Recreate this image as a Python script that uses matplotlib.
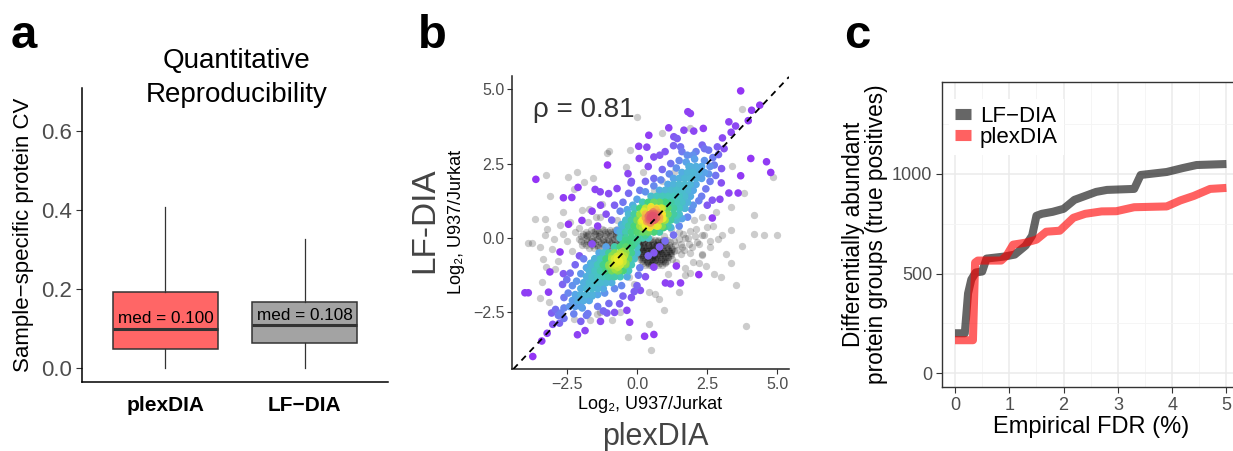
import numpy as np
import matplotlib
matplotlib.use("Agg")
import matplotlib.pyplot as plt
from matplotlib.colors import LinearSegmentedColormap
from matplotlib.lines import Line2D

plt.rcParams['font.family'] = ['Liberation Sans', 'DejaVu Sans']

W, H = 1233, 451

# ---- panel a: CV box stats ----
box_names = ['plexDIA', 'LF\u2212DIA']
box_q1 = [0.048, 0.063]
box_med = [0.100, 0.108]
box_q3 = [0.192, 0.168]
box_lo = [0.0, 0.0]
box_hi = [0.408, 0.326]
box_colors = ['#FF6666', '#A3A3A3']

# ---- panel b: log2 ratios (x = plexDIA, y = LF-DIA) ----
# body of the two dense clusters, read row by row: LF-DIA value -> plexDIA values
upper_rows = {
    -0.2: [-0.5, -0.3, -0.1],
    0.0: [-0.6, -0.4, -0.2, 0.0, 0.2, 0.4],
    0.2: [-0.6, -0.4, -0.2, 0.0, 0.2, 0.4, 0.6, 0.8],
    0.4: [-0.5, -0.3, -0.1, 0.1, 0.3, 0.5, 0.7, 0.9, 1.1],
    0.6: [-0.4, -0.2, 0.0, 0.2, 0.4, 0.6, 0.8, 1.0, 1.2, 1.4],
    0.8: [-0.3, -0.1, 0.1, 0.3, 0.5, 0.7, 0.9, 1.1, 1.3, 1.5],
    1.0: [-0.1, 0.1, 0.3, 0.5, 0.7, 0.9, 1.1, 1.3, 1.5, 1.7],
    1.2: [0.2, 0.4, 0.6, 0.8, 1.0, 1.2, 1.4, 1.6, 1.8],
    1.4: [0.5, 0.7, 0.9, 1.1, 1.3, 1.5, 1.7, 1.9],
    1.6: [0.8, 1.0, 1.2, 1.4, 1.6, 1.8, 2.0],
    1.8: [1.1, 1.3, 1.5, 1.7, 1.9, 2.1],
    2.0: [1.3, 1.5, 1.7, 1.9, 2.1, 2.3],
    2.2: [1.6, 1.8, 2.0, 2.2, 2.4],
    2.4: [1.9, 2.1, 2.3],
}
lower_rows = {
    -0.1: [-0.4, -0.2, 0.0],
    -0.3: [-0.8, -0.6, -0.4, -0.2, 0.0],
    -0.5: [-1.2, -1.0, -0.8, -0.6, -0.4, -0.2, 0.0],
    -0.7: [-1.5, -1.3, -1.1, -0.9, -0.7, -0.5, -0.3, -0.1],
    -0.9: [-1.6, -1.4, -1.2, -1.0, -0.8, -0.6, -0.4, -0.2],
    -1.1: [-1.7, -1.5, -1.3, -1.1, -0.9, -0.7, -0.5, -0.3],
    -1.3: [-1.8, -1.6, -1.4, -1.2, -1.0, -0.8, -0.6],
    -1.5: [-1.9, -1.7, -1.5, -1.3, -1.1, -0.9],
    -1.7: [-2.0, -1.8, -1.6, -1.4, -1.2],
    -1.9: [-2.2, -2.0, -1.8, -1.6, -1.4],
    -2.1: [-2.3, -2.1, -1.9, -1.7],
    -2.3: [-2.4, -2.2, -2.0],
}
# other points coloured by density
col_pts = [
    # upper cluster core
    (0.55, 0.70), (0.45, 0.62), (0.65, 0.78), (0.50, 0.80), (0.62, 0.60), (0.40, 0.72),
    (0.70, 0.68), (0.58, 0.88), (0.35, 0.55), (0.75, 0.85), (0.48, 0.50), (0.68, 0.95),
    (0.30, 0.68), (0.80, 0.70), (0.52, 0.66), (0.60, 0.74), (0.44, 0.78), (0.66, 0.64),
    (0.56, 0.58), (0.50, 0.72), (0.62, 0.82), (0.58, 0.66), (0.54, 0.76), (0.47, 0.68),
    (0.15, 0.55), (0.25, 0.90), (0.50, 1.05), (0.85, 1.00), (0.92, 0.65), (0.75, 0.40),
    (0.45, 0.35), (0.20, 0.35), (0.05, 0.20), (1.05, 1.15), (0.30, 0.10), (0.95, 0.35),
    # lower cluster core
    (-0.65, -0.75), (-0.55, -0.65), (-0.75, -0.85), (-0.60, -0.90), (-0.72, -0.62),
    (-0.50, -0.80), (-0.80, -0.70), (-0.68, -0.98), (-0.45, -0.60), (-0.88, -0.92),
    (-0.58, -0.55), (-0.78, -1.05), (-0.62, -0.80), (-0.70, -0.72), (-0.40, -0.85),
    (-0.90, -0.60), (-0.65, -1.10), (-0.50, -0.45), (-1.00, -0.95),
    # spread around clusters
    (-0.80, 1.10), (-0.50, 1.20), (-0.60, 0.90), (-0.90, 0.60), (-1.10, 0.80), (-0.30, 1.50),
    (0.10, 1.60), (0.30, 1.90), (0.60, 2.00), (0.90, 2.30), (1.20, 2.50), (1.50, 2.60),
    (1.00, 2.90), (1.30, 3.10), (2.40, 2.60), (2.60, 2.40), (2.60, 1.90), (2.80, 2.10),
    (2.30, 1.40), (2.50, 1.10), (2.00, 1.10), (1.80, 0.70), (1.50, 0.40), (1.30, 0.10),
    (1.00, -0.10), (0.80, -0.30), (1.60, 2.90), (2.10, 2.90), (2.40, 3.00), (2.90, 2.80),
    (3.10, 3.00), (2.70, 2.70), (0.40, 2.40), (-0.20, 1.90), (-1.30, 1.10), (-1.60, 0.90),
    (-0.40, 0.50), (-1.40, 0.40), (0.00, 1.30), (0.30, 1.55), (0.60, 1.75), (0.85, 1.95),
    (1.15, 2.15), (1.40, 2.35), (1.75, 2.55), (2.05, 2.65), (2.55, 2.15), (2.45, 1.65),
    (2.20, 1.25), (1.95, 0.95), (1.70, 1.00), (1.60, 0.65), (1.40, 0.75), (1.20, 0.35),
    (-0.55, 0.45), (-0.70, 0.25), (-0.35, 0.95), (-0.15, 1.10), (1.85, 2.40), (2.75, 2.45),
    (-2.00, -1.20), (-2.30, -1.60), (-2.60, -2.00), (-2.90, -2.40), (-1.80, -2.60),
    (-1.40, -2.30), (-1.00, -2.20), (-2.60, -2.70), (-0.80, -2.50), (-1.30, -2.80),
    (-2.00, -2.80), (0.10, -1.00), (0.30, -1.30), (0.00, -1.60), (-0.20, -2.00),
    (-1.80, -1.00), (-1.50, -0.70), (-2.20, -0.90), (-2.50, -1.40), (-3.00, -2.90),
    (-3.20, -3.20), (0.40, -0.60), (0.60, -0.50), (-1.10, -0.30), (-1.60, -0.20),
    (-2.15, -1.45), (-2.45, -1.85), (-2.60, -2.35), (-2.25, -2.55), (-1.95, -2.35),
    (-1.60, -1.95), (-1.15, -1.85), (-0.80, -1.70), (-0.55, -1.60), (-0.35, -1.30),
    (0.05, -1.25), (-0.10, -1.80), (-0.50, -1.95), (-1.35, -0.50), (-1.65, -0.85),
    (-2.05, -0.60), (-1.20, -2.45), (-2.80, -2.60),
    # isolated outliers
    (3.69, 4.94), (1.81, 4.24), (1.90, 4.18), (4.08, 4.29), (4.37, 4.46), (3.27, 3.90),
    (3.51, 3.76), (3.96, 3.94), (1.13, 3.70), (0.42, 3.45), (1.31, 3.40), (1.43, 3.34),
    (1.67, 3.62), (2.02, 3.59), (2.36, 3.68), (3.04, 3.36), (0.06, 3.08), (1.55, 3.06),
    (2.32, 3.12), (2.86, 3.06), (0.08, 2.67), (0.60, 2.72), (0.81, 2.78), (1.79, 2.78),
    (1.99, 2.78), (4.05, 2.67), (4.61, 2.56), (4.76, 2.20), (3.69, 2.09), (3.01, 2.33),
    (-3.60, 1.97), (-0.32, 2.16), (-0.21, 1.85), (-2.62, 1.35), (-2.32, 1.36), (-1.49, 1.63),
    (-1.31, 1.55), (-1.01, 1.49), (-0.71, 1.66), (3.27, 1.51), (3.60, 1.51), (2.68, 1.27),
    (3.00, 1.85), (-2.44, 0.46), (-1.96, 0.59), (-2.74, -0.47), (-1.90, -0.70), (-3.10, -1.14),
    (-2.62, -1.20), (-2.38, -1.18), (-2.65, -1.56), (-3.15, -1.82), (-3.99, -1.84), (-3.87, -1.84),
    (-3.04, -2.52), (-2.71, -2.52), (-2.76, -2.86), (-2.12, -3.25), (-1.85, -3.11), (-3.39, -3.46),
    (-3.71, -3.98), (-1.75, -2.54), (-1.07, -2.52), (-0.62, -2.21), (-0.36, -2.43), (-0.26, -2.83),
    (0.27, -3.30), (0.60, -3.24), (0.12, -1.76), (1.01, -1.51), (1.19, -1.54), (1.55, -1.51),
    (1.40, -0.94), (0.60, -0.98), (2.20, -1.23), (2.68, 0.67), (2.95, 1.30), (2.55, 2.95),
    (3.35, 3.55), (0.35, 3.05), (-1.05, 2.45), (-2.10, 1.70),
]

# translucent grey points, dense part read row by row
grey_rows = {
    -0.08: [0.02, 0.19, 0.31, 0.47, 0.63, 0.74, 0.92, 1.08],
    -0.15: [0.10, 0.26, 0.40, 0.56, 0.71, 0.86, 1.01, 1.16],
    -0.22: [0.08, 0.23, 0.38, 0.52, 0.69, 0.83, 0.97, 1.13],
    -0.29: [0.00, 0.14, 0.29, 0.44, 0.57, 0.74, 0.89, 1.04, 1.20],
    -0.36: [0.04, 0.17, 0.33, 0.49, 0.61, 0.78, 0.94, 1.09, 1.24],
    -0.43: [0.07, 0.21, 0.36, 0.51, 0.66, 0.82, 0.97, 1.14, 1.30],
    -0.50: [0.13, 0.27, 0.42, 0.58, 0.72, 0.88, 1.03, 1.18],
    -0.57: [0.03, 0.18, 0.32, 0.47, 0.62, 0.77, 0.92, 1.07, 1.22],
    -0.63: [0.09, 0.22, 0.37, 0.53, 0.66, 0.81, 0.98, 1.12],
    -0.70: [0.12, 0.27, 0.41, 0.57, 0.71, 0.86, 1.01],
    -0.77: [0.18, 0.34, 0.47, 0.62, 0.79, 0.93, 1.07],
    -0.84: [0.22, 0.38, 0.52, 0.67, 0.83, 0.98],
    -0.90: [0.28, 0.44, 0.58, 0.73, 0.89],
    0.28: [-1.63, -1.42, -1.18, -0.97, -0.78, -0.55],
    0.20: [-1.80, -1.58, -1.37, -1.15, -0.93, -0.74, -0.58],
    0.13: [-1.92, -1.74, -1.51, -1.33, -1.09, -0.88, -0.69, -0.47],
    0.05: [-1.98, -1.77, -1.56, -1.36, -1.14, -0.95, -0.76, -0.55, -0.38],
    -0.02: [-2.05, -1.83, -1.62, -1.44, -1.21, -1.02, -0.83, -0.61, -0.42],
    -0.10: [-2.00, -1.79, -1.57, -1.38, -1.17, -0.99, -0.78, -0.58, -0.40],
    -0.17: [-1.88, -1.67, -1.48, -1.27, -1.06, -0.92, -0.72, -0.53],
    -0.25: [-1.80, -1.60, -1.41, -1.19, -0.99, -0.81, -0.62],
    -0.32: [-1.72, -1.53, -1.31, -1.12, -0.94],
}
grey_pts = [
    # dense cloud right of zero
    (0.05, -0.20), (0.15, -0.35), (0.25, -0.15), (0.30, -0.45), (0.40, -0.25), (0.45, -0.60),
    (0.55, -0.40), (0.60, -0.20), (0.70, -0.55), (0.80, -0.35), (0.85, -0.70), (0.95, -0.50),
    (1.05, -0.30), (1.10, -0.65), (0.20, -0.70), (0.35, -0.80), (0.50, -0.90), (0.65, -0.75),
    (0.75, -0.10), (0.90, -0.15), (0.10, -0.55), (0.30, 0.00), (0.50, -0.05), (1.20, -0.45),
    (0.40, -0.45), (0.60, -0.60), (0.25, -0.30), (0.75, -0.40), (0.50, -0.25), (0.15, -0.10),
    (0.85, -0.50), (0.35, -0.60), (0.55, -0.70), (0.70, -0.25), (1.00, -0.80), (0.95, 0.05),
    # dense cloud left of zero
    (-0.45, 0.10), (-0.60, -0.10), (-0.75, 0.15), (-0.90, -0.05), (-1.05, 0.20), (-1.20, -0.15),
    (-1.35, 0.05), (-1.50, 0.25), (-1.65, -0.10), (-1.80, 0.10), (-0.55, -0.30), (-0.80, -0.25),
    (-1.00, -0.35), (-1.25, 0.30), (-0.70, 0.30), (-1.95, -0.25), (-1.40, -0.30), (-0.35, -0.15),
    # medium cloud right
    (1.30, -0.10), (1.50, 0.20), (1.60, -0.30), (1.80, 0.00), (1.90, -0.50), (2.10, 0.30),
    (2.20, -0.20), (2.40, 0.10), (1.40, -0.80), (1.70, -1.00), (2.00, -0.80), (2.60, -0.30),
    (1.20, 0.30), (2.70, 0.40), (1.55, -0.55), (2.30, -0.55), (2.32, 0.09), (2.50, 0.37),
    (2.60, -0.10), (2.80, 0.87), (2.32, 0.70), (2.02, 0.60), (1.90, 0.25), (1.72, 0.00),
    (1.55, -0.20), (1.43, -0.40), (1.20, -0.50), (1.66, -0.40), (1.95, -0.30), (2.12, -0.15),
    (1.35, -0.25), (1.50, -0.05), (1.65, 0.15), (1.85, -0.20), (2.05, 0.05), (1.25, -0.70),
    # scattered
    (3.75, 4.32), (0.00, 4.05), (-1.01, 2.91), (-1.07, 2.86), (-0.24, 2.95), (0.89, 3.51),
    (1.90, 3.68), (-3.25, 2.13), (-2.44, 2.05), (-2.14, 2.22), (-1.90, 1.88), (-1.55, 2.00),
    (-2.26, 1.64), (-3.10, 1.40), (-3.63, 0.65), (-3.27, 0.63), (-3.21, 0.31), (-3.87, -0.17),
    (-3.73, -0.17), (-3.27, 0.09), (-3.45, -0.30), (-2.95, -0.02), (-3.04, -0.36), (-3.33, -0.70),
    (-3.25, -0.98), (-2.80, -0.78), (-2.92, -1.03), (-3.39, -1.48), (-3.45, -2.02), (-3.15, -2.15),
    (-1.96, 0.93), (-1.70, 0.99), (-2.62, 0.87), (-1.25, 1.15), (4.17, 0.78), (4.52, 0.09),
    (4.98, 0.09), (4.17, 0.15), (3.33, 0.26), (3.39, 2.42), (3.81, 1.52), (3.33, 1.04),
    (3.04, 0.11), (3.75, -0.28), (3.15, -0.53), (3.33, -0.84), (3.51, -1.57), (2.98, -1.31),
    (2.74, -1.20), (2.32, -0.58), (2.20, -0.85), (1.90, -1.18), (1.72, -1.25), (3.87, -2.96),
    (0.42, -2.88), (0.48, -3.76), (-0.32, -3.33), (0.95, -2.43), (0.65, -1.87), (0.77, -2.05),
    (-1.43, -2.54), (-1.31, -2.48), (-0.89, -2.77), (-1.67, -2.77), (-0.60, -2.49), (-2.26, -2.71),
    (0.42, -1.82), (-0.12, -1.55), (1.49, -1.82), (4.85, 2.05), (-2.20, 0.20), (-2.50, -0.10),
    (-2.30, -0.45), (-2.05, 0.35), (-2.65, 0.15), (0.90, 1.90), (1.30, 2.20), (0.60, 1.60),
    (-0.70, 0.60), (-1.30, 0.70), (-0.40, 2.40), (0.20, 2.20), (1.10, -1.20), (-0.30, -1.30),
    (-2.40, 0.55), (-2.75, 0.45), (-1.75, 0.55), (-1.45, 0.70), (2.90, -0.05), (2.45, -0.95),
]
rho_text = '\u03c1 = 0.81'

# ---- panel c: true positives vs empirical FDR ----
lf_fdr = [0.0, 0.18, 0.24, 0.30, 0.38, 0.50, 0.58, 0.90, 1.10, 1.30, 1.42, 1.50, 1.60, 1.80,
          2.00, 2.20, 2.40, 2.60, 2.80, 3.30, 3.42, 3.90, 4.20, 4.45, 5.00]
lf_tp = [200, 200, 400, 470, 505, 510, 575, 585, 595, 640, 690, 790, 800, 810,
         825, 870, 890, 910, 920, 925, 995, 1010, 1030, 1045, 1050]
px_fdr = [0.0, 0.33, 0.37, 0.42, 0.85, 0.95, 1.07, 1.30, 1.50, 1.68, 1.93, 2.18, 2.40, 2.70,
          2.97, 3.30, 3.90, 4.15, 4.40, 4.70, 5.00]
px_tp = [165, 165, 555, 565, 565, 590, 645, 655, 670, 710, 715, 780, 800, 812,
         813, 833, 837, 867, 890, 925, 930]


def fx(px):
    return px / W


def fy(py):
    return 1 - py / H


def rows_to_xy(rows):
    xs, ys = [], []
    for yv, xl in rows.items():
        for xv in xl:
            xs.append(xv)
            ys.append(yv)
    return xs, ys


fig = plt.figure(figsize=(W / 100, H / 100), dpi=100)
tick_grey = '#4D4D4D'

# ================= panel a =================
ax1 = fig.add_axes([fx(82), fy(382), fx(306), 294 / H])
stats = []
for i in range(2):
    stats.append(dict(q1=box_q1[i], med=box_med[i], q3=box_q3[i], whislo=box_lo[i],
                      whishi=box_hi[i], fliers=[], label=box_names[i]))
bp = ax1.bxp(stats, positions=[1, 2], widths=0.75, patch_artist=True, showfliers=False,
             showcaps=False,
             boxprops=dict(edgecolor='#333333', linewidth=1.1),
             medianprops=dict(color='#333333', linewidth=2.2),
             whiskerprops=dict(color='#333333', linewidth=0.9))
for patch, c in zip(bp['boxes'], box_colors):
    patch.set_facecolor(c)
for i in range(2):
    ax1.text(i + 1, box_med[i] + 0.025, 'med = %.3f' % box_med[i], ha='center', va='center',
             fontsize=12.3, color='black')
ax1.set_xlim(0.4, 2.6)
ax1.set_ylim(-0.035, 0.709)
ax1.set_yticks([0, 0.2, 0.4, 0.6])
ax1.set_yticklabels(['0.0', '0.2', '0.4', '0.6'], fontsize=16, color=tick_grey)
ax1.set_xticks([1, 2])
ax1.set_xticklabels(box_names, fontsize=15, fontweight='bold', color='black')
ax1.tick_params(axis='y', length=4, width=0.8, color='#333333', pad=3)
ax1.tick_params(axis='x', length=0, pad=10)
for s in ['top', 'right']:
    ax1.spines[s].set_visible(False)
for s in ['left', 'bottom']:
    ax1.spines[s].set_linewidth(1.1)
    ax1.spines[s].set_color('black')
ax1.set_ylabel('Sample\u2212specific protein CV', fontsize=16, labelpad=5)
fig.text(fx(237), fy(68), 'Quantitative', ha='center', va='baseline', fontsize=20)
fig.text(fx(237), fy(102), 'Reproducibility', ha='center', va='baseline', fontsize=20)

# ================= panel b =================
ax2 = fig.add_axes([fx(512), fy(369), fx(277), 293 / H])
grx, gry = rows_to_xy(grey_rows)
gx = np.concatenate([np.array(grey_pts)[:, 0], grx])
gy = np.concatenate([np.array(grey_pts)[:, 1], gry])
ux, uy = rows_to_xy(upper_rows)
lx, ly = rows_to_xy(lower_rows)
cx = np.concatenate([np.array(col_pts)[:, 0], ux, lx])
cy = np.concatenate([np.array(col_pts)[:, 1], uy, ly])
ax2.scatter(gx, gy, s=28, color='black', alpha=0.2, linewidths=0, zorder=1)

# density of the coloured points (gaussian kernel)
bw = 0.3
d2 = (cx[:, None] - cx[None, :]) ** 2 + (cy[:, None] - cy[None, :]) ** 2
dens = np.exp(-d2 / (2 * bw ** 2)).sum(axis=1)
dens = (dens - dens.min()) / (dens.max() - dens.min())
dens = dens ** 0.8
cmap = LinearSegmentedColormap.from_list('dens', ['#9433F5', '#8A4CF2', '#6F7CF0', '#56A8E8',
                                                   '#46C6C0', '#43D27E', '#9EE040', '#F2EE2A',
                                                   '#F2A84C', '#E0506A'])
order = np.argsort(dens)
ax2.scatter(cx[order], cy[order], c=dens[order], cmap=cmap, vmin=0, vmax=1, s=30,
            linewidths=0, zorder=2)
ax2.axline((0, 0), slope=1, color='black', linestyle=(0, (3.5, 3)), linewidth=1.3, zorder=3)
ax2.set_xlim(-4.45, 5.41)
ax2.set_ylim(-4.40, 5.44)
ax2.set_xticks([-2.5, 0, 2.5, 5])
ax2.set_xticklabels(['\u22122.5', '0.0', '2.5', '5.0'], fontsize=11.5, color=tick_grey)
ax2.set_yticks([-2.5, 0, 2.5, 5])
ax2.set_yticklabels(['\u22122.5', '0.0', '2.5', '5.0'], fontsize=11.5, color=tick_grey)
ax2.tick_params(length=3.5, width=0.8, color='#333333', pad=2)
for s in ['top', 'right']:
    ax2.spines[s].set_visible(False)
for s in ['left', 'bottom']:
    ax2.spines[s].set_linewidth(1.1)
    ax2.spines[s].set_color('#222222')
ax2.text(-3.7, 4.06, rho_text, fontsize=20, color='#333333', va='baseline', ha='left')
fig.text(fx(650), fy(409), 'Log\u2082, U937/Jurkat', ha='center', va='baseline', fontsize=13)
fig.text(fx(655), fy(445), 'plexDIA', ha='center', va='baseline', fontsize=22, color='#444444')
fig.text(fx(457), fy(222), 'Log\u2082, U937/Jurkat', ha='center', va='center', fontsize=13,
         rotation=90)
fig.text(fx(425), fy(220), 'LF-DIA', ha='center', va='center', fontsize=24, color='#444444',
         rotation=90)

# ================= panel c =================
ax3 = fig.add_axes([fx(942), fy(387), fx(298), 305 / H])
ax3.plot(lf_fdr, lf_tp, color='black', alpha=0.6, linewidth=5.8, solid_capstyle='butt',
         solid_joinstyle='round', zorder=3)
ax3.plot(px_fdr, px_tp, color='red', alpha=0.62, linewidth=5.8, solid_capstyle='butt',
         solid_joinstyle='round', zorder=4)
ax3.set_xlim(-0.24, 5.25)
ax3.set_ylim(-70, 1462)
ax3.set_xticks([0, 1, 2, 3, 4, 5])
ax3.set_xticks(np.arange(0.5, 5.1, 1), minor=True)
ax3.set_yticks([0, 500, 1000])
ax3.set_yticks([250, 750, 1250], minor=True)
ax3.tick_params(axis='both', which='major', labelsize=13, labelcolor=tick_grey, length=4,
                width=0.8, color='#333333', pad=3)
ax3.tick_params(axis='both', which='minor', length=0)
ax3.grid(which='major', color='#EBEBEB', linewidth=1.1, zorder=0)
ax3.grid(which='minor', color='#F4F4F4', linewidth=0.6, zorder=0)
ax3.set_axisbelow(True)
for s in ax3.spines.values():
    s.set_color('#333333')
    s.set_linewidth(1.0)
ax3.set_xlabel('Empirical FDR (%)', fontsize=17, labelpad=2)
ax3.set_ylabel('Differentially abundant\nprotein groups (true positives)', fontsize=16.3,
               labelpad=3, linespacing=1.0)
handles = [Line2D([], [], color='black', alpha=0.6, linewidth=8, solid_capstyle='butt'),
           Line2D([], [], color='red', alpha=0.62, linewidth=8, solid_capstyle='butt')]
leg = ax3.legend(handles, ['LF\u2212DIA', 'plexDIA'], loc='upper left',
                 bbox_to_anchor=(0.0, 0.965), fontsize=16, handlelength=0.7,
                 handletextpad=0.4, labelspacing=0.0, borderpad=0.3, frameon=True,
                 fancybox=False, borderaxespad=0.3)
leg.get_frame().set_facecolor('white')
leg.get_frame().set_edgecolor('none')
leg.get_frame().set_alpha(1)

# panel letters
fig.text(fx(11), fy(48), 'a', fontsize=34, fontweight='bold', va='baseline')
fig.text(fx(418), fy(48), 'b', fontsize=34, fontweight='bold', va='baseline')
fig.text(fx(844), fy(48), 'c', fontsize=34, fontweight='bold', va='baseline')

fig.savefig('out.png', dpi=100)
